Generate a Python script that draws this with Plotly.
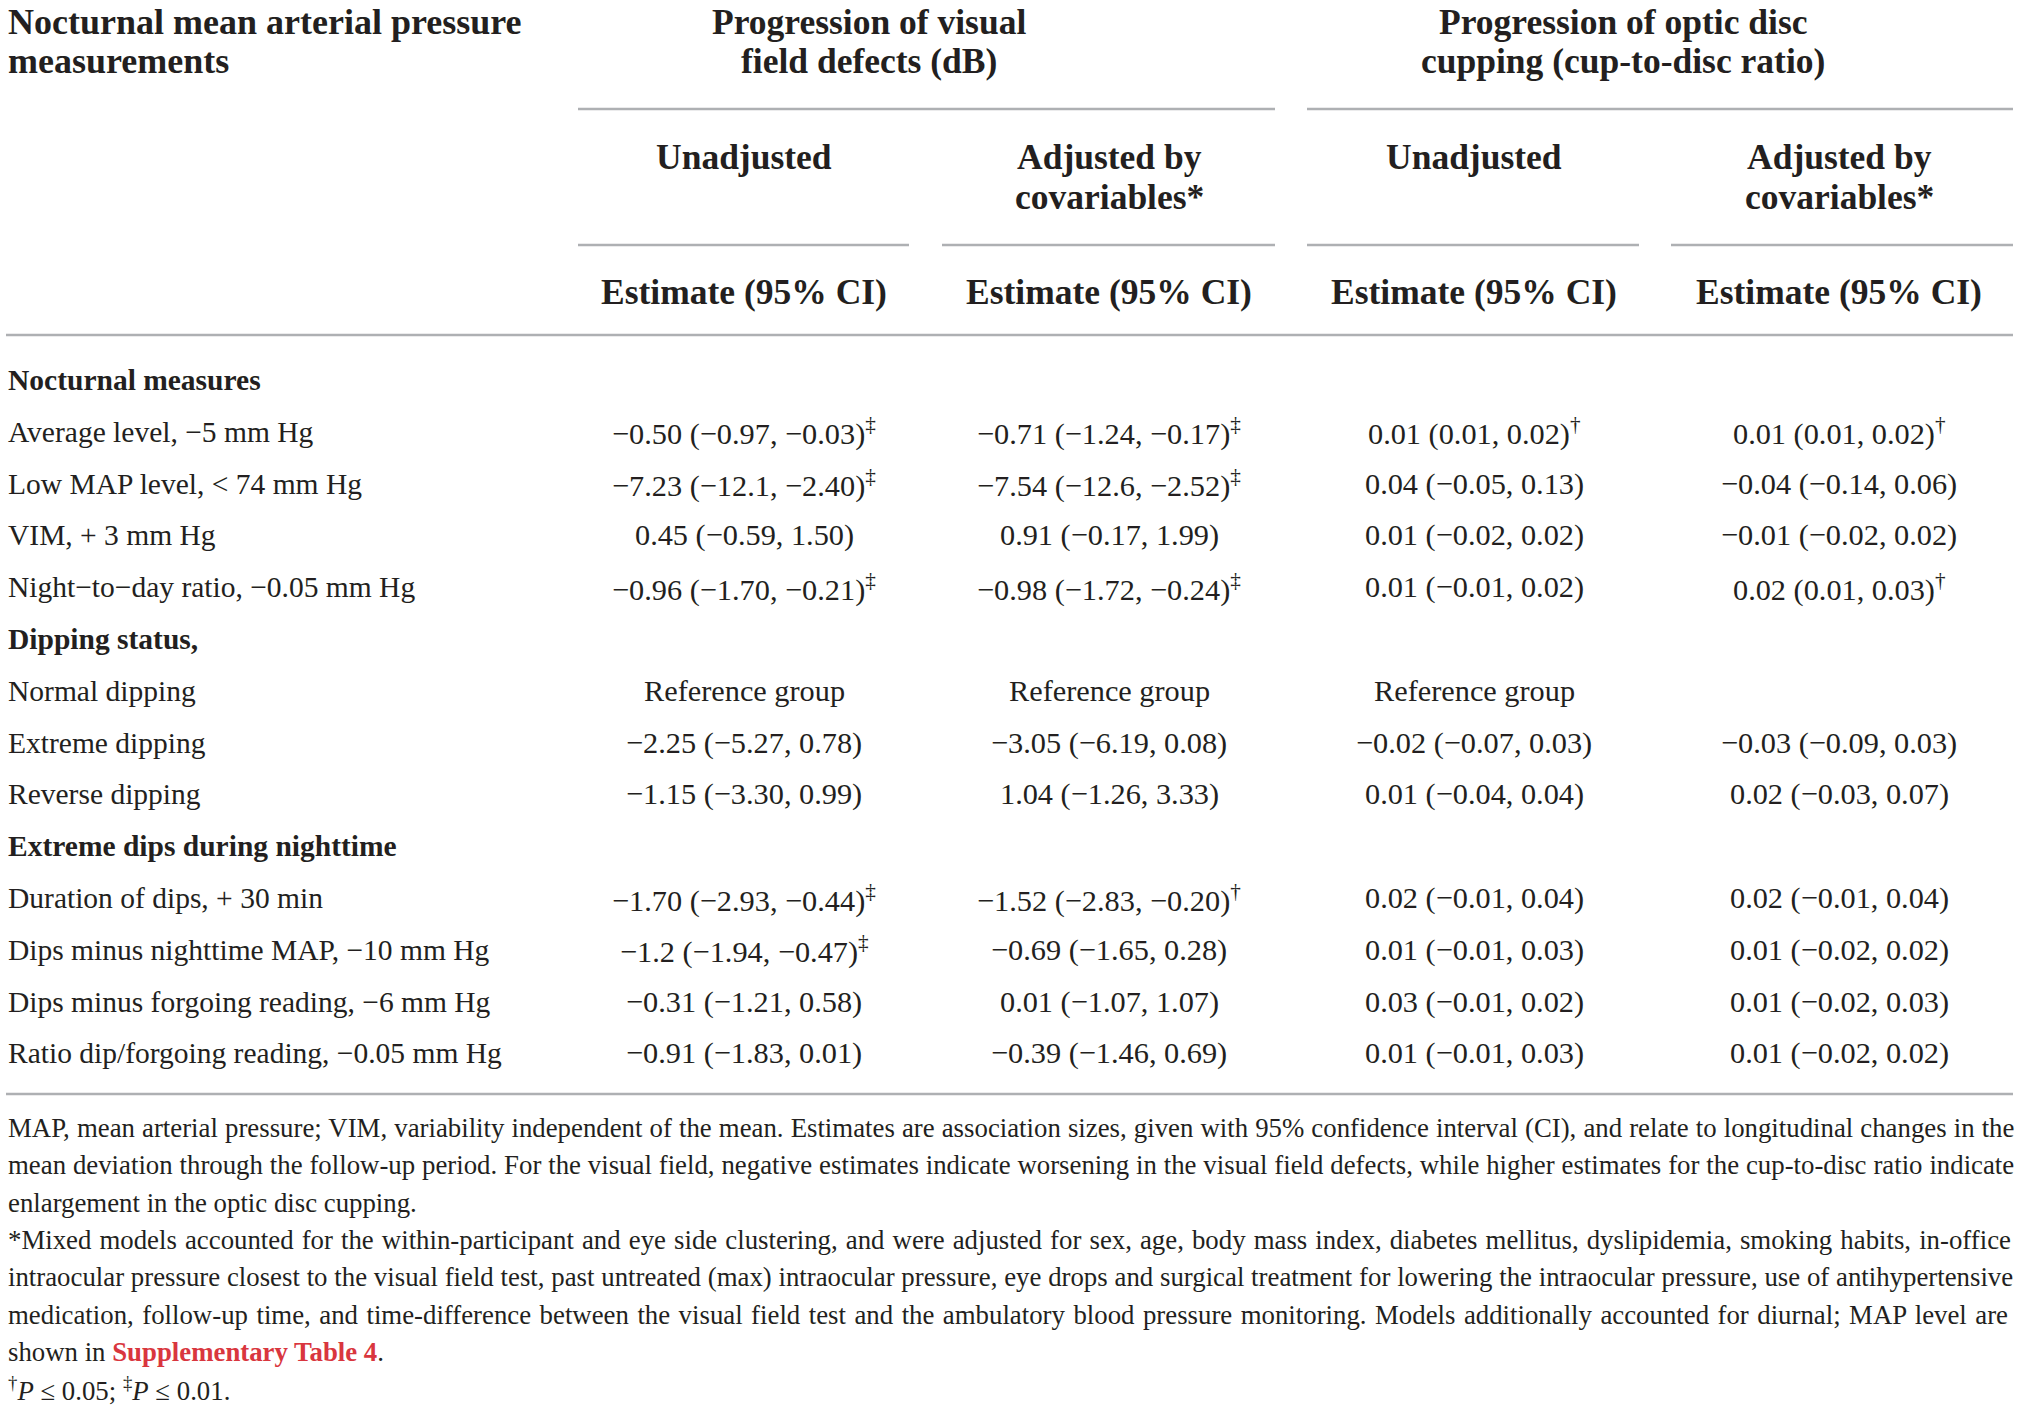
import plotly.graph_objects as go

# table content
group_titles = [
    ["Progression of visual", "field defects (dB)"],
    ["Progression of optic disc", "cupping (cup-to-disc ratio)"],
]
sub_titles = [
    ["Unadjusted"],
    ["Adjusted by", "covariables*"],
    ["Unadjusted"],
    ["Adjusted by", "covariables*"],
]
row_labels = [
    "Nocturnal measures",
    "Average level, −5 mm Hg",
    "Low MAP level, &lt; 74 mm Hg",
    "VIM, + 3 mm Hg",
    "Night−to−day ratio, −0.05 mm Hg",
    "Dipping status,",
    "Normal dipping",
    "Extreme dipping",
    "Reverse dipping",
    "Extreme dips during nighttime",
    "Duration of dips, + 30 min",
    "Dips minus nighttime MAP, −10 mm Hg",
    "Dips minus forgoing reading, −6 mm Hg",
    "Ratio dip/forgoing reading, −0.05 mm Hg",
]
section_rows = [0, 5, 9]

vf_unadj = [
    "", "−0.50 (−0.97, −0.03)‡", "−7.23 (−12.1, −2.40)‡", "0.45 (−0.59, 1.50)",
    "−0.96 (−1.70, −0.21)‡", "", "Reference group", "−2.25 (−5.27, 0.78)",
    "−1.15 (−3.30, 0.99)", "", "−1.70 (−2.93, −0.44)‡", "−1.2 (−1.94, −0.47)‡",
    "−0.31 (−1.21, 0.58)", "−0.91 (−1.83, 0.01)",
]
vf_adj = [
    "", "−0.71 (−1.24, −0.17)‡", "−7.54 (−12.6, −2.52)‡", "0.91 (−0.17, 1.99)",
    "−0.98 (−1.72, −0.24)‡", "", "Reference group", "−3.05 (−6.19, 0.08)",
    "1.04 (−1.26, 3.33)", "", "−1.52 (−2.83, −0.20)†", "−0.69 (−1.65, 0.28)",
    "0.01 (−1.07, 1.07)", "−0.39 (−1.46, 0.69)",
]
cd_unadj = [
    "", "0.01 (0.01, 0.02)†", "0.04 (−0.05, 0.13)", "0.01 (−0.02, 0.02)",
    "0.01 (−0.01, 0.02)", "", "Reference group", "−0.02 (−0.07, 0.03)",
    "0.01 (−0.04, 0.04)", "", "0.02 (−0.01, 0.04)", "0.01 (−0.01, 0.03)",
    "0.03 (−0.01, 0.02)", "0.01 (−0.01, 0.03)",
]
cd_adj = [
    "", "0.01 (0.01, 0.02)†", "−0.04 (−0.14, 0.06)", "−0.01 (−0.02, 0.02)",
    "0.02 (0.01, 0.03)†", "", "", "−0.03 (−0.09, 0.03)",
    "0.02 (−0.03, 0.07)", "", "0.02 (−0.01, 0.04)", "0.01 (−0.02, 0.02)",
    "0.01 (−0.02, 0.03)", "0.01 (−0.02, 0.02)",
]

footnotes = [
    "MAP, mean arterial pressure; VIM, variability independent of the mean. Estimates are association sizes, given with 95% confidence interval (CI), and relate to longitudinal changes in the",
    "mean deviation through the follow-up period. For the visual field, negative estimates indicate worsening in the visual field defects, while higher estimates for the cup-to-disc ratio indicate",
    "enlargement in the optic disc cupping.",
    "*Mixed models accounted for the within-participant and eye side clustering, and were adjusted for sex, age, body mass index, diabetes mellitus, dyslipidemia, smoking habits, in-office",
    "intraocular pressure closest to the visual field test, past untreated (max) intraocular pressure, eye drops and surgical treatment for lowering the intraocular pressure, use of antihypertensive",
    "medication, follow-up time, and time-difference between the visual field test and the ambulatory blood pressure monitoring. Models additionally accounted for diurnal; MAP level are",
    "shown in <span style='color:#d9363e'><b>Supplementary Table 4</b></span>.",
    "<sup>†</sup><i>P</i> ≤ 0.05; <sup>‡</sup><i>P</i> ≤ 0.01.",
]
# rough extra word spacing so the full lines reach the right edge (justified look)
foot_wordspace = [0.4, 0.2, 0, 1.4, 0.1, 1.8, 0, 0]

W, H = 2019, 1406
FONT = "Liberation Serif, Times New Roman, DejaVu Serif, serif"
INK = "#231f20"
RULE = "#aeb0b3"

col_x = [744, 1109, 1474, 1839]
group_x = [869, 1623]
group_rule = [(578, 1275), (1307, 2013)]
sub_rule = [(578, 909), (942, 1275), (1307, 1639), (1671, 2013)]


def sup(s):
    # daggers go up as superscripts
    for mark in ("‡", "†"):
        s = s.replace(mark, "<sup>" + mark + "</sup>")
    return s


fig = go.Figure()
fig.add_trace(go.Scatter(x=[0, W], y=[0, H], mode="markers",
                         marker=dict(opacity=0), hoverinfo="skip",
                         showlegend=False))

ann = []


def text(x, y, s, size, bold=False, anchor="center"):
    if bold:
        s = "<b>" + s + "</b>"
    ann.append(dict(x=x, y=y, xref="x", yref="y", text=s, showarrow=False,
                    xanchor=anchor, yanchor="middle",
                    font=dict(family=FONT, size=size, color=INK)))


# header block
text(6, 22, "Nocturnal mean arterial pressure", 36, True, "left")
text(6, 61, "measurements", 36, True, "left")
for gx, lines in zip(group_x, group_titles):
    for k, ln in enumerate(lines):
        text(gx, 22 + 39 * k, ln, 35.5, True)
for cx, lines in zip(col_x, sub_titles):
    for k, ln in enumerate(lines):
        text(cx, 157 + 40 * k, ln, 35.5, True)
    text(cx, 292, "Estimate (95% CI)", 35.5, True)

# body rows
columns = [vf_unadj, vf_adj, cd_unadj, cd_adj]
for i, label in enumerate(row_labels):
    y = 380 + 51.8 * i
    text(6, y, label, 29.5, i in section_rows, "left")
    for cx, col in zip(col_x, columns):
        if col[i]:
            text(cx, y, sup(col[i]), 30.3)

# footnotes
for j, ln in enumerate(footnotes):
    if foot_wordspace[j]:
        ln = "<span style='word-spacing:%.1fpx'>%s</span>" % (foot_wordspace[j], ln)
    text(6, 1128 + 37.3 * j, ln, 26.8, False, "left")

shapes = []
for x0, x1 in group_rule:
    shapes.append(dict(type="line", x0=x0, x1=x1, y0=109, y1=109))
for x0, x1 in sub_rule:
    shapes.append(dict(type="line", x0=x0, x1=x1, y0=245, y1=245))
shapes.append(dict(type="line", x0=6, x1=2013, y0=335, y1=335))
shapes.append(dict(type="line", x0=6, x1=2013, y0=1094, y1=1094))
for s in shapes:
    s.update(xref="x", yref="y", line=dict(color=RULE, width=2.5))

fig.update_layout(
    width=W, height=H,
    margin=dict(l=0, r=0, t=0, b=0),
    paper_bgcolor="white", plot_bgcolor="white",
    xaxis=dict(range=[0, W], visible=False, fixedrange=True),
    yaxis=dict(range=[H, 0], visible=False, fixedrange=True),
    annotations=ann, shapes=shapes,
)

fig.write_html("out.html", config={"displayModeBar": False},
               post_script="document.body.style.margin='0';")
